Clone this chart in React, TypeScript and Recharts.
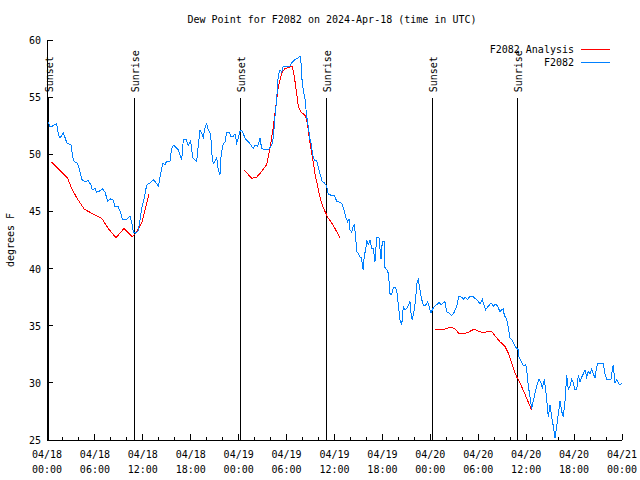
import { LineChart, Line, XAxis, YAxis, ReferenceLine } from "recharts";

const FONT = "'DejaVu Sans Mono', monospace";

// hours since 04/18 00:00 UTC, F2082 observations
const obsHours = [
  0.16, 0.38, 0.79, 1.21, 1.41, 1.63, 2.04, 2.34, 2.47, 3.01,
  3.29, 3.51, 3.84, 4.13, 4.35, 4.76, 5.17, 5.51, 5.67, 6.01,
  6.22, 6.64, 6.92, 7.26, 7.6, 7.89, 8.3, 8.51, 8.93, 9.27,
  9.43, 9.98, 10.39, 10.61, 10.81, 11.11, 11.43, 11.65, 11.86, 12.18,
  12.48, 12.9, 13.31, 13.65, 13.94, 14.24, 14.49, 14.78, 14.99, 15.4,
  15.61, 15.82, 16.15, 16.44, 16.87, 17.07, 17.41, 17.69, 17.99, 18.24,
  18.53, 18.75, 18.95, 19.16, 19.37, 19.57, 19.78, 20.0, 20.2, 20.5,
  20.62, 20.82, 21.04, 21.25, 21.45, 21.66, 21.79, 22.0, 22.29, 22.5,
  22.83, 23.0, 23.33, 23.54, 23.75, 23.95, 24.17, 24.38, 24.58, 24.88,
  25.21, 25.54, 25.83, 26.05, 26.38, 26.67, 26.88, 27.3, 27.71, 28.14,
  28.34, 28.55, 28.76, 28.96, 29.18, 29.39, 29.59, 30.02, 30.43, 30.64,
  31.05, 31.39, 31.68, 31.81, 31.89, 32.09, 32.31, 32.52, 32.72, 32.93,
  33.15, 33.22, 33.47, 33.77, 33.97, 34.19, 34.47, 34.72, 35.02, 35.22,
  35.65, 35.98, 36.28, 36.69, 36.98, 37.23, 37.4, 37.65, 37.82, 37.94,
  38.15, 38.35, 38.48, 38.66, 38.78, 38.98, 39.19, 39.41, 39.48, 39.61,
  39.73, 39.91, 40.03, 40.23, 40.45, 40.66, 40.86, 41.07, 41.28, 41.57,
  41.82, 41.99, 42.24, 42.33, 42.54, 42.74, 42.82, 42.95, 43.16, 43.36,
  43.58, 43.79, 43.99, 44.2, 44.42, 44.62, 44.83, 45.04, 45.24, 45.45,
  45.58, 45.74, 45.99, 46.17, 46.29, 46.49, 46.71, 46.92, 47.12, 47.42,
  47.67, 47.83, 48.08, 48.25, 48.5, 48.92, 49.09, 49.34, 49.62, 49.84,
  50.05, 50.34, 50.68, 51.0, 51.3, 51.59, 51.93, 52.13, 52.34, 52.68,
  52.97, 53.26, 53.59, 53.93, 54.22, 54.51, 54.76, 54.93, 55.26, 55.6,
  55.89, 56.19, 56.44, 56.72, 56.94, 57.14, 57.26, 57.56, 57.76, 57.98,
  58.19, 58.39, 58.6, 58.82, 59.02, 59.1, 59.35, 59.64, 59.94, 60.07,
  60.27, 60.48, 60.69, 60.89, 61.11, 61.32, 61.61, 61.86, 62.02, 62.27,
  62.44, 62.61, 62.77, 62.99, 63.2, 63.4, 63.61, 63.83, 64.03, 64.24,
  64.45, 64.65, 64.86, 65.08, 65.28, 65.49, 65.7, 65.9, 66.12, 66.33,
  66.53, 66.74, 66.95, 67.16, 67.37, 67.58, 67.78, 67.99, 68.2, 68.41,
  68.62, 68.83, 68.96, 69.37, 69.66, 69.87, 70.09, 70.37, 70.62, 70.79,
  70.91, 71.04, 71.12, 71.34, 71.54, 71.75, 72.0,
];

const obsDew = [
  52.8, 52.4, 52.5, 52.7, 51.8, 51.4, 51.9, 51.3, 51.0, 50.8,
  49.5, 49.3, 49.2, 48.5, 47.8, 47.6, 47.7, 47.3, 46.9, 47.0,
  46.7, 46.8, 47.0, 46.7, 45.9, 46.1, 46.0, 45.4, 45.4, 44.8,
  44.3, 44.3, 44.6, 44.0, 43.2, 43.1, 43.3, 44.3, 45.3, 46.2,
  47.3, 47.5, 47.8, 47.5, 47.2, 48.3, 49.2, 49.1, 49.4, 49.4,
  50.5, 50.8, 50.6, 50.4, 49.5, 51.3, 51.3, 50.8, 51.2, 49.7,
  49.5, 49.4, 50.8, 52.1, 51.8, 51.5, 52.3, 52.7, 52.1, 51.8,
  50.1, 49.2, 49.4, 49.7, 48.6, 48.2, 49.8, 50.8, 51.1, 51.9,
  51.9, 51.6, 51.6, 51.8, 51.0, 51.4, 52.0, 52.1, 51.8, 51.3,
  51.1, 50.8, 50.5, 50.8, 50.7, 51.4, 50.5, 50.4, 50.4, 50.8,
  51.5, 53.3, 54.8, 56.9, 57.4, 57.2, 57.7, 57.7, 57.7, 58.0,
  58.3, 58.4, 58.6, 58.0, 56.8, 55.6, 54.8, 53.3, 52.4, 51.3,
  50.7, 50.1, 49.5, 49.4, 48.9, 48.3, 47.6, 47.5, 47.2, 46.5,
  46.4, 46.4, 45.9, 45.8, 45.6, 45.0, 44.5, 44.1, 44.3, 43.4,
  43.2, 43.7, 43.8, 42.7, 41.5, 41.3, 41.0, 41.0, 40.2, 39.9,
  41.2, 41.6, 42.5, 42.1, 42.5, 41.8, 41.8, 40.6, 42.7, 42.7,
  40.8, 42.4, 42.4, 40.0, 39.9, 39.6, 39.0, 37.8, 37.7, 38.3,
  38.4, 38.1, 36.8, 35.5, 35.1, 36.7, 36.4, 36.5, 36.8, 37.1,
  36.1, 35.5, 36.4, 37.4, 38.7, 39.0, 38.1, 37.3, 36.8, 36.8,
  37.1, 36.7, 36.1, 36.4, 36.7, 36.9, 37.1, 36.8, 37.0, 37.1,
  36.2, 36.1, 35.9, 36.2, 36.7, 37.6, 37.5, 37.3, 37.5, 37.3,
  37.6, 37.6, 37.4, 37.2, 36.9, 37.3, 36.7, 36.4, 36.7, 37.0,
  36.7, 36.9, 36.7, 36.2, 36.4, 36.5, 35.9, 35.6, 34.9, 33.9,
  33.8, 33.5, 33.2, 33.0, 32.9, 32.3, 31.9, 31.5, 31.6, 31.1,
  29.7, 28.8, 27.7, 28.4, 29.1, 29.7, 30.3, 30.0, 29.5, 30.3,
  29.4, 28.2, 27.0, 28.1, 27.0, 26.2, 25.2, 26.2, 27.3, 28.4,
  27.5, 27.0, 28.4, 30.7, 29.4, 29.7, 30.3, 30.0, 29.4, 29.4,
  30.7, 30.1, 30.5, 30.8, 31.1, 30.5, 31.0, 30.8, 31.2, 30.8,
  30.4, 31.4, 31.7, 31.7, 31.7, 30.8, 30.3, 30.3, 30.3, 31.1,
  31.6, 30.5, 30.0, 30.3, 30.0, 29.8, 30.0,
];

// analysis series, null = gap between runs
const anaHours = [
  0.59, 2.59, 3.09, 3.72, 4.67, 5.17, 6.01, 6.85, 7.68, 8.64, 9.64, 10.68, 11.23, 11.86, 12.77,
  18,
  24.71, 25.63, 26.26, 26.88, 27.51, 27.71, 27.92, 28.14, 28.34, 28.55, 28.76, 28.96, 29.39, 29.8,
  30.72, 30.97, 31.27, 31.47, 31.81, 32.31, 32.52, 32.72, 32.93, 33.22, 33.56, 33.97, 34.4, 34.81,
  35.22, 35.65, 36.06, 36.69,
  42,
  48.59, 49.84, 50.59, 51.09, 51.63, 52.13, 52.68, 53.18, 53.59, 54.01, 54.63, 55.26, 55.68, 56.1,
  56.72, 57.35, 57.76, 58.19, 58.52, 58.82, 59.23, 59.85, 60.69,
];

const anaDew = [
  49.3, 47.9, 47.0, 46.2, 45.2, 45.0, 44.7, 44.4, 43.5, 42.7, 43.5, 42.8, 43.2, 44.0, 46.5,
  null,
  48.6, 47.9, 48.0, 48.5, 49.1, 49.8, 50.5, 51.5, 52.4, 53.6, 54.8, 55.9, 57.1, 57.5,
  57.7, 56.8, 55.3, 54.2, 53.7, 53.4, 53.0, 52.1, 51.0, 49.8, 48.3, 46.9, 45.7, 45.0,
  44.4, 44.0, 43.5, 42.7,
  null,
  34.7, 34.7, 34.9, 34.7, 34.3, 34.3, 34.4, 34.6, 34.7, 34.5, 34.4, 34.5, 34.5, 34.1,
  33.6, 33.2, 32.6, 31.7, 31.0, 30.5, 30.0, 29.0, 27.6,
];

const sunHours = [0.17, 10.93, 24.2, 34.98, 48.25, 58.9];
const sunNames = ["Sunset", "Sunrise", "Sunset", "Sunrise", "Sunset", "Sunrise"];

const hourTicks = [0, 2, 4, 6, 8, 10, 12, 14, 16, 18, 20, 22, 24, 26, 28, 30, 32, 34, 36, 38, 40, 42, 44, 46, 48, 50, 52, 54, 56, 58, 60, 62, 64, 66, 68, 70, 72];
const dewTicks = [25, 30, 35, 40, 45, 50, 55, 60];

const obsData = obsHours.map((h, i) => ({ h, v: obsDew[i] }));
const anaData = anaHours.map((h, i) => ({ h, v: anaDew[i] }));

const hourLabel = (h: number) => {
  const day = 18 + Math.floor(h / 24);
  const hh = String(h % 24).padStart(2, "0");
  return [`04/${day}`, `${hh}:00`];
};

function BottomTick({ x, y, payload }: any) {
  const major = payload.value % 6 === 0;
  const [d, t] = hourLabel(payload.value);
  return (
    <g>
      <line x1={x} x2={x} y1={y} y2={y - (major ? 6 : 3)} stroke="#000" />
      {major && (
        <text x={x} y={y + 18} textAnchor="middle" fontFamily={FONT} fontSize={10} fill="#000">
          <tspan x={x}>{d}</tspan>
          <tspan x={x} dy={15}>{t}</tspan>
        </text>
      )}
    </g>
  );
}

function TopTick({ x, y, payload }: any) {
  const major = payload.value % 6 === 0;
  return <line x1={x} x2={x} y1={y} y2={y + (major ? 6 : 3)} stroke="#000" />;
}

function LeftTick({ x, y, payload }: any) {
  return (
    <g>
      <line x1={x} x2={x + 6} y1={y} y2={y} stroke="#000" />
      <text x={x - 6} y={y + 4} textAnchor="end" fontFamily={FONT} fontSize={10} fill="#000">
        {payload.value}
      </text>
    </g>
  );
}

function RightTick({ x, y }: any) {
  return <line x1={x} x2={x - 6} y1={y} y2={y} stroke="#000" />;
}

function SunLabel(props: any) {
  const vb = props.viewBox || {};
  const x = vb.x + 4.5;
  const y = vb.y - 6;
  return (
    <text x={x} y={y} transform={`rotate(-90 ${x} ${y})`} fontFamily={FONT} fontSize={10} fill="#000">
      {props.text}
    </text>
  );
}

export default function App() {
  return (
    <div style={{ position: "absolute", left: 0, top: 0, width: 640, height: 480, background: "#fff" }}>
      <LineChart width={640} height={480} margin={{ top: 40, right: 18, bottom: 10, left: 7 }}
        style={{ shapeRendering: "crispEdges" }}>
        <XAxis xAxisId="top" orientation="top" type="number" dataKey="h" domain={[0, 72]} ticks={hourTicks}
          interval={0} height={0} tickSize={0} tickMargin={0} tickLine={false} tick={<TopTick />}
          axisLine={{ stroke: "#000" }} allowDataOverflow />
        <XAxis xAxisId="bottom" type="number" dataKey="h" domain={[0, 72]} ticks={hourTicks}
          interval={0} height={30} tickSize={0} tickMargin={0} tickLine={false} tick={<BottomTick />}
          axisLine={{ stroke: "#000" }} allowDataOverflow />
        <YAxis yAxisId="left" type="number" domain={[25, 60]} ticks={dewTicks} interval={0} width={40}
          tickSize={0} tickMargin={0} tickLine={false} tick={<LeftTick />} axisLine={{ stroke: "#000" }}
          allowDataOverflow />
        <YAxis yAxisId="right" orientation="right" type="number" domain={[25, 60]} ticks={dewTicks}
          interval={0} width={0} tickSize={0} tickMargin={0} tickLine={false} tick={<RightTick />}
          axisLine={{ stroke: "#000" }} allowDataOverflow />
        {sunHours.map((h, i) => (
          <ReferenceLine key={i} xAxisId="bottom" yAxisId="left" stroke="#000"
            segment={[{ x: h, y: 25 }, { x: h, y: 54.9 }]}
            label={<SunLabel text={sunNames[i]} />} />
        ))}
        <Line xAxisId="bottom" yAxisId="left" data={anaData} dataKey="v" stroke="#ff0000" strokeWidth={1}
          dot={false} isAnimationActive={false} connectNulls={false} />
        <Line xAxisId="bottom" yAxisId="left" data={obsData} dataKey="v" stroke="#0080ff" strokeWidth={1}
          dot={false} isAnimationActive={false} />
      </LineChart>
      <svg width={640} height={480} style={{ position: "absolute", left: 0, top: 0, pointerEvents: "none" }}>
        <text x={332} y={23} textAnchor="middle" fontFamily={FONT} fontSize={10} fill="#000">
          Dew Point for F2082 on 2024-Apr-18 (time in UTC)
        </text>
        <text x={14} y={240} textAnchor="middle" transform="rotate(-90 14 240)" fontFamily={FONT} fontSize={10} fill="#000">
          degrees F
        </text>
        <text x={574} y={53} textAnchor="end" fontFamily={FONT} fontSize={10} fill="#000">F2082 Analysis</text>
        <line x1={581} x2={610} y1={49.5} y2={49.5} stroke="#ff0000" />
        <text x={574} y={66} textAnchor="end" fontFamily={FONT} fontSize={10} fill="#000">F2082</text>
        <line x1={581} x2={610} y1={62.5} y2={62.5} stroke="#0080ff" />
      </svg>
    </div>
  );
}
